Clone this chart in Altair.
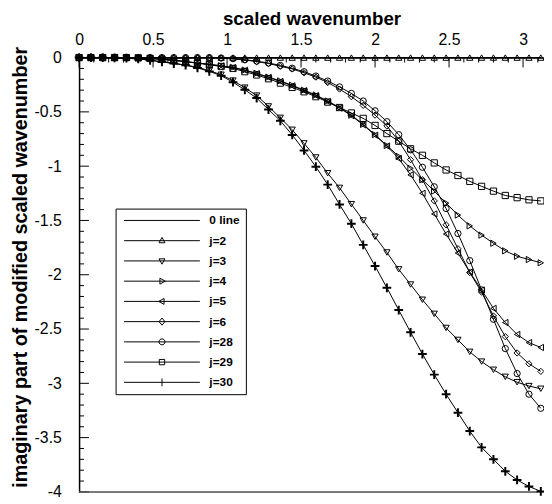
import altair as alt
import pandas as pd

K = [0.00, 0.08, 0.16, 0.24, 0.32, 0.40, 0.48, 0.56, 0.64, 0.72,
     0.80, 0.88, 0.96, 1.04, 1.12, 1.20, 1.28, 1.36, 1.44, 1.52,
     1.60, 1.68, 1.76, 1.84, 1.92, 2.00, 2.08, 2.16, 2.24, 2.32,
     2.40, 2.48, 2.56, 2.64, 2.72, 2.80, 2.88, 2.96, 3.04, 3.12]

zero_line = [0, 0, 0, 0, 0, 0, 0, 0, 0, 0, 0, 0, 0, 0, 0, 0, 0, 0, 0, 0,
             0, 0, 0, 0, 0, 0, 0, 0, 0, 0, 0, 0, 0, 0, 0, 0, 0, 0, 0, 0]
j2 = [0, 0, 0, 0, 0, 0, 0, 0, 0, 0, 0, 0, 0, 0, 0, 0, 0, 0, 0, 0,
      0, 0, 0, 0, 0, 0, 0, 0, 0, 0, 0, 0, 0, 0, 0, 0, 0, 0, 0, 0]
j3 = [0, 0, 0, -0.002, -0.006, -0.012, -0.024, -0.038, -0.053, -0.068,
      -0.09, -0.12, -0.158, -0.212, -0.277, -0.35, -0.45, -0.555, -0.665, -0.79,
      -0.92, -1.065, -1.20, -1.35, -1.50, -1.65, -1.795, -1.95, -2.09, -2.23,
      -2.36, -2.49, -2.60, -2.71, -2.80, -2.875, -2.94, -2.99, -3.025, -3.05]
j4 = [0, 0, 0, 0, 0, -0.003, -0.008, -0.015, -0.025, -0.037,
      -0.05, -0.062, -0.076, -0.09, -0.115, -0.145, -0.18, -0.215, -0.255, -0.30,
      -0.345, -0.40, -0.46, -0.53, -0.615, -0.71, -0.81, -0.91, -1.02, -1.125,
      -1.23, -1.34, -1.45, -1.55, -1.635, -1.71, -1.78, -1.83, -1.86, -1.89]
j5 = [0, 0, 0, 0, 0, -0.003, -0.008, -0.015, -0.025, -0.037,
      -0.05, -0.063, -0.077, -0.092, -0.117, -0.148, -0.183, -0.22, -0.26, -0.305,
      -0.35, -0.405, -0.465, -0.535, -0.62, -0.715, -0.815, -0.93, -1.08, -1.25,
      -1.44, -1.625, -1.80, -1.975, -2.14, -2.31, -2.44, -2.55, -2.625, -2.67]
j6 = [0, 0, 0, 0, 0, 0, 0, 0, 0, 0,
      0, 0, -0.005, -0.012, -0.022, -0.037, -0.055, -0.08, -0.105, -0.14,
      -0.18, -0.23, -0.29, -0.36, -0.44, -0.53, -0.63, -0.77, -0.94, -1.125,
      -1.32, -1.54, -1.76, -1.98, -2.16, -2.38, -2.57, -2.72, -2.82, -2.89]
j28 = [0, 0, 0, 0, 0, 0, 0, 0, 0, 0,
       0, 0, -0.004, -0.01, -0.02, -0.033, -0.05, -0.072, -0.098, -0.13,
       -0.17, -0.216, -0.27, -0.33, -0.40, -0.49, -0.59, -0.71, -0.85, -1.01,
       -1.19, -1.39, -1.62, -1.87, -2.14, -2.41, -2.68, -2.91, -3.10, -3.23]
j29 = [0, 0, 0, 0, 0, -0.003, -0.008, -0.016, -0.026, -0.038,
       -0.052, -0.066, -0.082, -0.10, -0.13, -0.16, -0.195, -0.235, -0.275, -0.315,
       -0.36, -0.41, -0.46, -0.51, -0.56, -0.625, -0.70, -0.77, -0.84, -0.90,
       -0.97, -1.035, -1.086, -1.14, -1.186, -1.23, -1.27, -1.29, -1.31, -1.32]
j30 = [0, 0, 0, -0.002, -0.006, -0.012, -0.025, -0.04, -0.055, -0.07,
       -0.095, -0.127, -0.167, -0.227, -0.297, -0.373, -0.479, -0.582, -0.712, -0.855,
       -1.005, -1.17, -1.353, -1.53, -1.725, -1.92, -2.12, -2.325, -2.53, -2.73,
       -2.92, -3.10, -3.27, -3.44, -3.59, -3.70, -3.81, -3.89, -3.95, -3.995]

names = ["0 line", "j=2", "j=3", "j=4", "j=5", "j=6", "j=28", "j=29", "j=30"]
series_vals = [zero_line, j2, j3, j4, j5, j6, j28, j29, j30]

x_major = [0, 0.5, 1, 1.5, 2, 2.5, 3]
x_minor = [0.1, 0.2, 0.3, 0.4, 0.6, 0.7, 0.8, 0.9, 1.1, 1.2, 1.3, 1.4,
           1.6, 1.7, 1.8, 1.9, 2.1, 2.2, 2.3, 2.4, 2.6, 2.7, 2.8, 2.9, 3.1]
y_major = [0, -0.5, -1, -1.5, -2, -2.5, -3, -3.5, -4]
y_minor = [-0.1, -0.2, -0.3, -0.4, -0.6, -0.7, -0.8, -0.9, -1.1, -1.2, -1.3, -1.4,
           -1.6, -1.7, -1.8, -1.9, -2.1, -2.2, -2.3, -2.4, -2.6, -2.7, -2.8, -2.9,
           -3.1, -3.2, -3.3, -3.4, -3.6, -3.7, -3.8, -3.9]

rows = []
for nm, vals in zip(names, series_vals):
    for kk, vv in zip(K, vals):
        rows.append({"series": nm, "k": kk, "v": vv})
df = pd.DataFrame(rows)

FONT = "Liberation Sans"
W, H = 471, 440

X = alt.X("k:Q",
          scale=alt.Scale(domain=[0, 3.14159], nice=False, zero=False),
          axis=alt.Axis(orient="top", values=x_major, labelExpr="'' + datum.value",
                        ticks=False, grid=False, domainColor="black", domainWidth=1.5,
                        labelFont=FONT, labelFontSize=16, labelColor="black",
                        labelPadding=10, labelFlush=False,
                        title="scaled wavenumber", titleFont=FONT, titleFontSize=19,
                        titleFontWeight="bold", titleColor="black", titlePadding=4))
Y = alt.Y("v:Q",
          scale=alt.Scale(domain=[-4, 0], nice=False, zero=False),
          axis=alt.Axis(values=y_major, labelExpr="'' + datum.value",
                        ticks=False, grid=False, domainColor="black", domainWidth=1.5,
                        labelFont=FONT, labelFontSize=16, labelColor="black",
                        labelPadding=18, labelFlush=False,
                        title="imaginary part of modified scaled wavenumber",
                        titleFont=FONT, titleFontSize=20, titleFontWeight="bold",
                        titleColor="black", titlePadding=4, titleY=212))

lines = alt.Chart(df).mark_line(color="black", strokeWidth=1).encode(
    x=X, y=Y, detail="series:N", order="k:Q")

mark_names = ["j=2", "j=3", "j=4", "j=5", "j=6", "j=28", "j=29"]
mark_shapes = ["triangle-up", "triangle-down", "triangle-right", "triangle-left",
               "diamond", "circle", "square"]
points = alt.Chart(df).transform_filter(
    alt.FieldOneOfPredicate(field="series", oneOf=mark_names)
).mark_point(filled=False, color="black", strokeWidth=1, size=40, opacity=1).encode(
    x=X, y=Y,
    shape=alt.Shape("series:N", scale=alt.Scale(domain=mark_names, range=mark_shapes),
                    legend=None))

plus = alt.Chart(df).transform_filter(alt.datum.series == "j=30").mark_point(
    filled=False, color="black", strokeWidth=2, size=40, opacity=1,
    shape="M-1.4,0H1.4M0,-1.4V1.4").encode(x=X, y=Y)

L = "M-12.8,0H12.8"
legend_paths = [
    L,
    L + "M0,-1.1L1,0.7L-1,0.7Z",
    L + "M0,1.1L1,-0.7L-1,-0.7Z",
    L + "M1.1,0L-0.7,1L-0.7,-1Z",
    L + "M-1.1,0L0.7,1L0.7,-1Z",
    L + "M0,-1.2L1,0L0,1.2L-1,0Z",
    L + "M1,0A1,1,0,1,1,-1,0A1,1,0,1,1,1,0Z",
    L + "M-0.9,-0.9H0.9V0.9H-0.9Z",
    L + "M0,-1.3V1.3",
]
legend_layer = alt.Chart(df).mark_point(filled=False, color="black", opacity=0).encode(
    x=X, y=Y,
    shape=alt.Shape("series:N", scale=alt.Scale(domain=names, range=legend_paths),
                    legend=alt.Legend(orient="none", legendX=37, legendY=153, title=None,
                                      strokeColor="black", fillColor="white", padding=6,
                                      symbolSize=36, symbolStrokeColor="black",
                                      symbolStrokeWidth=1, symbolOpacity=1,
                                      symbolFillColor="transparent", symbolOffset=35,
                                      labelOffset=42, labelFont=FONT, labelFontSize=12,
                                      labelFontWeight="bold", labelColor="black",
                                      rowPadding=8.5, labelLimit=0)))

xt_major = alt.Chart(pd.DataFrame({"k": x_major})).mark_rule(color="black", strokeWidth=1).encode(
    x=X, y=alt.value(0), y2=alt.value(10))
xt_minor = alt.Chart(pd.DataFrame({"k": x_minor})).mark_rule(color="black", strokeWidth=1).encode(
    x=X, y=alt.value(0), y2=alt.value(5))
yt_major = alt.Chart(pd.DataFrame({"v": y_major})).mark_rule(color="black", strokeWidth=1).encode(
    y=Y, x=alt.value(0), x2=alt.value(10))
yt_minor = alt.Chart(pd.DataFrame({"v": y_minor})).mark_rule(color="black", strokeWidth=1).encode(
    y=Y, x=alt.value(0), x2=alt.value(5))
bottom = alt.Chart(pd.DataFrame({"v": [-4]})).mark_rule(color="#555555", strokeWidth=1.5).encode(y=Y)

chart = alt.layer(
    xt_major, xt_minor, yt_major, yt_minor, bottom, lines, points, plus, legend_layer
).resolve_scale(shape="independent").properties(
    width=W, height=H,
    autosize=alt.AutoSizeParams(type="none"),
    padding={"left": 72, "top": 47, "right": 0, "bottom": 7},
).configure_view(stroke=None).configure(background="white")

chart.save("out.html", embed_options={"renderer": "svg", "actions": False})
